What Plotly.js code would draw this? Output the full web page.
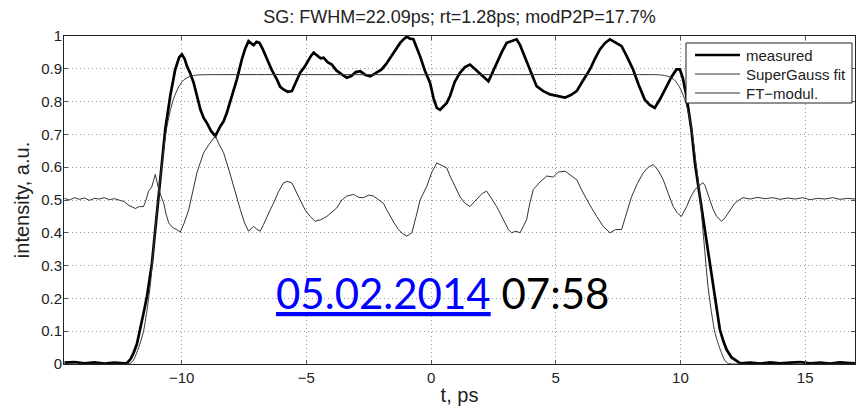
<!DOCTYPE html>
<html>
<head>
<meta charset="utf-8">
<script src="https://cdn.plot.ly/plotly-3.0.1.min.js"></script>
<style>
  html, body { margin: 0; padding: 0; background: #fff; }
  #chart { width: 856px; height: 409px; }
</style>
</head>
<body>
<div id="chart"></div>
<script>
// Pulse intensity profile: measured trace, super-Gaussian fit and FT modulation.

// measured intensity (t in ps, normalized intensity)
const measuredT = [-14.7, -14.3, -13.9, -13.5, -13.1, -12.7, -12.3, -12.19, -12.05, -11.93, -11.8, -11.66, -11.53, -11.39, -11.19, -11.06, -10.92, -10.79, -10.66, -10.46, -10.26, -10.1, -9.99, -9.88, -9.79, -9.65, -9.52, -9.38, -9.25, -9.12, -8.99, -8.82, -8.65, -8.45, -8.32, -8.19, -8.0, -7.79, -7.59, -7.45, -7.32, -7.22, -7.12, -7.0, -6.88, -6.75, -6.58, -6.38, -6.18, -6.05, -5.92, -5.75, -5.58, -5.42, -5.25, -5.08, -4.92, -4.81, -4.71, -4.55, -4.43, -4.31, -4.15, -3.98, -3.8, -3.58, -3.38, -3.2, -3.02, -2.84, -2.65, -2.44, -2.2, -1.98, -1.8, -1.64, -1.45, -1.24, -1.1, -0.97, -0.85, -0.71, -0.58, -0.44, -0.25, -0.04, 0.1, 0.23, 0.36, 0.5, 0.63, 0.76, 0.95, 1.16, 1.36, 1.56, 1.75, 1.96, 2.13, 2.3, 2.47, 2.63, 2.83, 3.03, 3.23, 3.43, 3.57, 3.7, 3.95, 4.23, 4.5, 4.77, 5.05, 5.37, 5.6, 5.84, 6.1, 6.37, 6.57, 6.77, 6.97, 7.17, 7.4, 7.64, 7.87, 8.1, 8.33, 8.57, 8.77, 8.97, 9.2, 9.44, 9.64, 9.84, 9.98, 10.1, 10.24, 10.44, 10.58, 10.78, 10.98, 11.18, 11.38, 11.58, 11.72, 11.85, 12.05, 12.25, 12.4, 12.8, 13.2, 13.6, 14.0, 14.4, 14.8, 15.2, 15.6, 16.0, 16.4, 16.8, 17.0];
const measuredI = [0.004, 0.006, 0.002, 0.005, 0.001, 0.004, 0.002, 0.003, 0.015, 0.034, 0.06, 0.105, 0.155, 0.207, 0.309, 0.41, 0.51, 0.613, 0.715, 0.817, 0.898, 0.935, 0.944, 0.93, 0.908, 0.885, 0.857, 0.815, 0.776, 0.75, 0.735, 0.71, 0.695, 0.725, 0.74, 0.766, 0.815, 0.867, 0.928, 0.962, 0.984, 0.978, 0.972, 0.982, 0.979, 0.96, 0.928, 0.895, 0.867, 0.845, 0.837, 0.83, 0.832, 0.86, 0.888, 0.905, 0.928, 0.94, 0.949, 0.94, 0.932, 0.934, 0.92, 0.913, 0.895, 0.883, 0.873, 0.878, 0.89, 0.893, 0.882, 0.877, 0.888, 0.898, 0.915, 0.934, 0.958, 0.979, 0.99, 0.998, 0.992, 0.99, 0.965, 0.938, 0.895, 0.857, 0.81, 0.781, 0.775, 0.785, 0.796, 0.817, 0.86, 0.888, 0.905, 0.913, 0.9, 0.888, 0.875, 0.862, 0.89, 0.918, 0.95, 0.979, 0.985, 0.99, 0.972, 0.949, 0.9, 0.847, 0.832, 0.822, 0.818, 0.812, 0.82, 0.832, 0.865, 0.898, 0.93, 0.959, 0.978, 0.99, 0.98, 0.969, 0.935, 0.898, 0.85, 0.806, 0.79, 0.781, 0.81, 0.847, 0.875, 0.898, 0.898, 0.87, 0.817, 0.715, 0.613, 0.51, 0.41, 0.309, 0.207, 0.105, 0.07, 0.044, 0.02, 0.009, 0.002, 0.004, 0.001, 0.005, 0.002, 0.004, 0.006, 0.002, 0.004, 0.001, 0.005, 0.003, 0.002];

// super-Gaussian fit
const fitT = [-14.7, -12.3, -12.06, -11.93, -11.8, -11.66, -11.53, -11.4, -11.26, -11.13, -11.0, -10.9, -10.79, -10.66, -10.59, -10.45, -10.32, -10.12, -9.92, -9.66, -9.39, -9.0, 0.0, 9.0, 9.23, 9.5, 9.76, 9.96, 10.16, 10.29, 10.43, 10.5, 10.63, 10.74, 10.84, 10.97, 11.1, 11.24, 11.37, 11.5, 11.64, 11.77, 11.9, 12.1, 17.0];
const fitI = [0, 0, 0.002, 0.012, 0.035, 0.065, 0.1, 0.16, 0.24, 0.35, 0.46, 0.54, 0.61, 0.69, 0.725, 0.775, 0.81, 0.845, 0.866, 0.877, 0.881, 0.882, 0.882, 0.882, 0.881, 0.877, 0.866, 0.845, 0.81, 0.775, 0.725, 0.69, 0.61, 0.54, 0.46, 0.35, 0.24, 0.16, 0.1, 0.065, 0.035, 0.012, 0.002, 0, 0];

// FT modulation
const modT = [-14.7, -14.5, -14.3, -14.1, -13.9, -13.7, -13.5, -13.3, -13.1, -12.9, -12.7, -12.5, -12.3, -12.15, -12.0, -11.86, -11.7, -11.53, -11.43, -11.33, -11.2, -11.06, -10.99, -10.92, -10.82, -10.72, -10.62, -10.52, -10.35, -10.2, -10.06, -9.9, -9.72, -9.55, -9.39, -9.25, -9.12, -8.9, -8.65, -8.5, -8.32, -8.1, -7.92, -7.78, -7.65, -7.48, -7.32, -7.22, -7.12, -6.98, -6.85, -6.72, -6.58, -6.45, -6.32, -6.12, -5.92, -5.77, -5.58, -5.42, -5.25, -5.05, -4.85, -4.65, -4.42, -4.18, -3.98, -3.78, -3.58, -3.38, -3.11, -2.9, -2.71, -2.5, -2.31, -2.1, -1.91, -1.78, -1.64, -1.48, -1.31, -1.15, -0.97, -0.77, -0.6, -0.44, -0.17, 0.03, 0.23, 0.43, 0.63, 0.76, 0.96, 1.16, 1.36, 1.56, 1.8, 2.05, 2.23, 2.43, 2.63, 2.8, 2.96, 3.1, 3.23, 3.4, 3.57, 3.7, 3.83, 3.96, 4.1, 4.37, 4.64, 4.9, 5.1, 5.37, 5.6, 5.84, 6.04, 6.24, 6.44, 6.64, 6.9, 7.17, 7.4, 7.64, 7.84, 8.04, 8.27, 8.51, 8.71, 8.91, 9.11, 9.31, 9.51, 9.71, 9.88, 10.04, 10.25, 10.42, 10.58, 10.78, 10.9, 10.98, 11.08, 11.18, 11.32, 11.45, 11.65, 11.78, 11.91, 12.05, 12.18, 12.35, 12.51, 12.8, 13.1, 13.4, 13.7, 14.0, 14.3, 14.6, 14.9, 15.2, 15.5, 15.8, 16.1, 16.4, 16.7, 17.0];
const modI = [0.505, 0.5, 0.507, 0.502, 0.506, 0.499, 0.505, 0.503, 0.507, 0.501, 0.504, 0.5, 0.495, 0.485, 0.478, 0.474, 0.48, 0.48, 0.5, 0.527, 0.54, 0.578, 0.555, 0.532, 0.51, 0.49, 0.455, 0.43, 0.415, 0.41, 0.402, 0.43, 0.47, 0.53, 0.583, 0.615, 0.644, 0.67, 0.695, 0.67, 0.644, 0.59, 0.542, 0.5, 0.471, 0.43, 0.405, 0.412, 0.42, 0.41, 0.405, 0.425, 0.45, 0.47, 0.49, 0.525, 0.552, 0.557, 0.552, 0.525, 0.5, 0.47, 0.45, 0.435, 0.44, 0.45, 0.462, 0.476, 0.5, 0.512, 0.517, 0.508, 0.507, 0.515, 0.512, 0.5, 0.49, 0.47, 0.45, 0.43, 0.41, 0.398, 0.39, 0.4, 0.45, 0.5, 0.542, 0.585, 0.613, 0.605, 0.598, 0.573, 0.54, 0.51, 0.49, 0.48, 0.5, 0.52, 0.527, 0.505, 0.48, 0.455, 0.43, 0.41, 0.4, 0.405, 0.4, 0.42, 0.44, 0.49, 0.532, 0.555, 0.573, 0.57, 0.585, 0.588, 0.575, 0.562, 0.53, 0.5, 0.475, 0.45, 0.42, 0.4, 0.41, 0.41, 0.46, 0.51, 0.55, 0.583, 0.6, 0.608, 0.59, 0.562, 0.52, 0.48, 0.46, 0.45, 0.48, 0.51, 0.532, 0.547, 0.553, 0.545, 0.52, 0.5, 0.47, 0.45, 0.435, 0.445, 0.46, 0.475, 0.49, 0.5, 0.507, 0.503, 0.508, 0.504, 0.507, 0.502, 0.506, 0.503, 0.507, 0.501, 0.505, 0.503, 0.507, 0.502, 0.505, 0.503];

const xTicks = [-10, -5, 0, 5, 10, 15];
const yTicks = [0, 0.1, 0.2, 0.3, 0.4, 0.5, 0.6, 0.7, 0.8, 0.9, 1];

const seriesNames = ['measured', 'SuperGauss fit', 'FT\u2212modul.'];
const titleText = 'SG: FWHM=22.09ps; rt=1.28ps; modP2P=17.7%';
const stampDate = '05.02.2014';
const stampTime = '07:58';

const baseFont = 'Liberation Sans, Arial, Helvetica, sans-serif';
const W = 856, H = 409;
const M = { l: 64, r: 1, t: 36, b: 45 };
const seriesStyles = [
  { color: '#000000', width: 2.7 },
  { color: '#333333', width: 1 },
  { color: '#333333', width: 1 }
];

const traces = [
  { x: measuredT, y: measuredI, name: seriesNames[0], type: 'scatter', mode: 'lines',
    line: seriesStyles[0] },
  { x: fitT, y: fitI, name: seriesNames[1], type: 'scatter', mode: 'lines',
    line: Object.assign({ shape: 'spline', smoothing: 0.6 }, seriesStyles[1]) },
  { x: modT, y: modI, name: seriesNames[2], type: 'scatter', mode: 'lines',
    line: seriesStyles[2] }
];

// boxed legend in the upper right corner, placed in pixel terms
const plotW = W - M.l - M.r, plotH = H - M.t - M.b;
const px = v => (v - M.l) / plotW;
const py = v => (H - M.b - v) / plotH;
const legendBox = { left: 686, right: 852, top: 43, bottom: 103 };
const legendRows = [55, 74, 93];
const legendShapes = [{
  type: 'rect', xref: 'paper', yref: 'paper', layer: 'above',
  x0: px(legendBox.left), x1: px(legendBox.right),
  y0: py(legendBox.bottom), y1: py(legendBox.top),
  fillcolor: '#ffffff', line: { color: '#222', width: 1 }
}];
const legendTexts = [];
legendRows.forEach((row, i) => {
  legendShapes.push({
    type: 'line', xref: 'paper', yref: 'paper', layer: 'above',
    x0: px(695), x1: px(740), y0: py(row), y1: py(row),
    line: seriesStyles[i]
  });
  legendTexts.push({
    xref: 'paper', yref: 'paper', x: px(744), y: py(row),
    xanchor: 'left', yanchor: 'middle', showarrow: false,
    text: seriesNames[i],
    font: { family: baseFont, size: 15, color: '#222' }
  });
});

const axisCommon = {
  showgrid: true,
  gridcolor: '#9a9a9a',
  griddash: '1px,3px',
  gridwidth: 1,
  zeroline: false,
  showline: true,
  linecolor: '#222',
  linewidth: 1,
  mirror: 'ticks',
  ticks: 'inside',
  ticklen: 4,
  tickcolor: '#555',
  tickfont: { family: baseFont, size: 15, color: '#222' }
};

const layout = {
  width: W,
  height: H,
  paper_bgcolor: '#ffffff',
  plot_bgcolor: '#ffffff',
  margin: M,
  showlegend: false,
  title: {
    text: titleText,
    font: { family: baseFont, size: 18, color: '#222' },
    xref: 'paper', x: 0.5, xanchor: 'center',
    yref: 'container', y: 0.958, yanchor: 'middle'
  },
  xaxis: Object.assign({}, axisCommon, {
    range: [-14.72, 17.0],
    tickmode: 'array',
    tickvals: xTicks,
    title: { text: 't, ps', font: { family: baseFont, size: 20, color: '#222' }, standoff: 2 }
  }),
  yaxis: Object.assign({}, axisCommon, {
    range: [0, 1],
    tickmode: 'array',
    tickvals: yTicks,
    ticklabelstandoff: -2,
    title: { text: 'intensity, a.u.', font: { family: baseFont, size: 20, color: '#222' }, standoff: 6 }
  }),
  shapes: legendShapes,
  annotations: legendTexts.concat([
    {
      xref: 'x', yref: 'y',
      x: -6.3, y: 0.215,
      xanchor: 'left', yanchor: 'middle',
      showarrow: false,
      text: '<span style="color:#0000ff"><u>' + stampDate + '</u></span> ' + stampTime,
      font: { family: 'Lato, Carlito, Calibri, sans-serif', size: 42, color: '#000000' }
    }
  ])
};

Plotly.newPlot('chart', traces, layout, { staticPlot: true, displayModeBar: false });
</script>
</body>
</html>
